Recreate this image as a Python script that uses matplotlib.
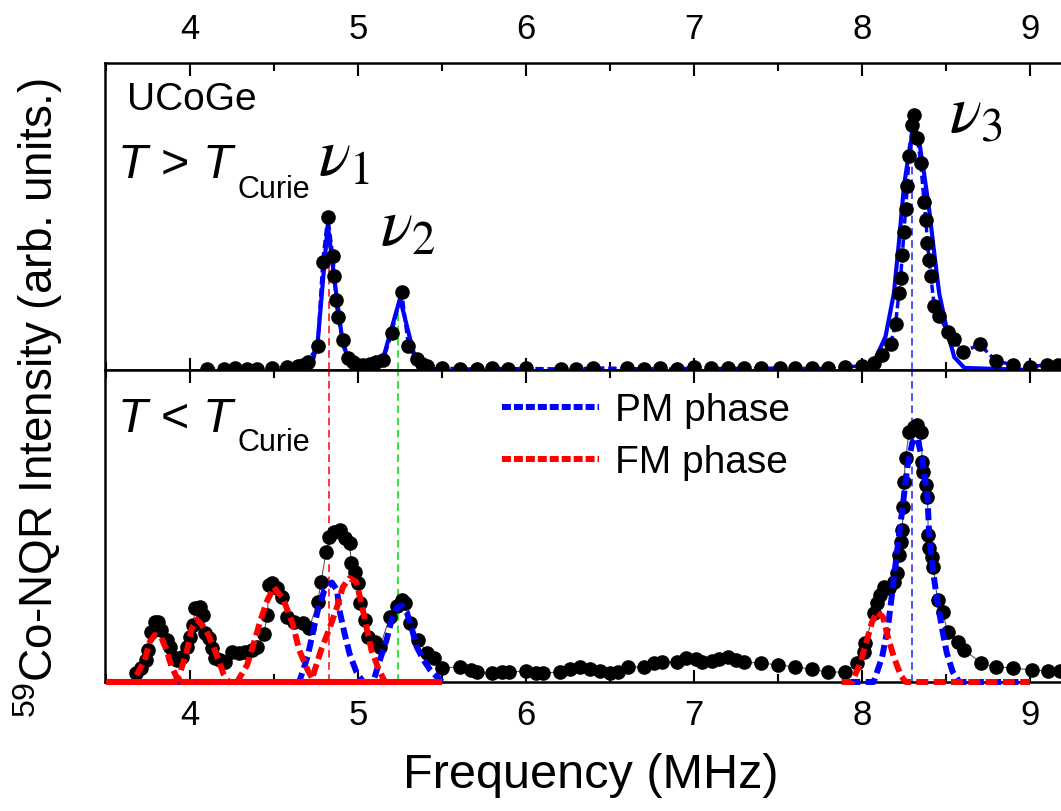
import matplotlib
matplotlib.use("Agg")
import matplotlib.pyplot as plt
from matplotlib.lines import Line2D
from matplotlib.ticker import MultipleLocator

plt.rcParams['font.family'] = ['Liberation Sans', 'DejaVu Sans']
plt.rcParams['mathtext.fontset'] = 'custom'
plt.rcParams['mathtext.rm'] = 'Liberation Sans'
plt.rcParams['mathtext.it'] = 'Liberation Sans:italic'

# ---- data (frequency in MHz, intensity in arb. units) ----
# T > T_Curie spectrum
top_freq = [4.10, 4.20, 4.27, 4.34, 4.40, 4.49, 4.58, 4.64, 4.67, 4.70, 4.76, 4.79, 4.82,
            4.85, 4.86, 4.87, 4.88, 4.91, 4.94, 4.97, 5.00, 5.03, 5.07, 5.11, 5.15, 5.20,
            5.26, 5.30, 5.35, 5.38, 5.41, 5.50, 5.61, 5.71, 5.80, 5.89, 6.00, 6.21, 6.30,
            6.40, 6.60, 6.70, 6.80, 6.90, 7.00, 7.10, 7.20, 7.30, 7.40, 7.51, 7.60, 7.70,
            7.80, 7.90, 8.00, 8.07, 8.12, 8.17, 8.20, 8.22, 8.23, 8.24, 8.25, 8.26, 8.27,
            8.28, 8.30, 8.31, 8.33, 8.35, 8.37, 8.38, 8.39, 8.40, 8.41, 8.43, 8.46, 8.51,
            8.55, 8.60, 8.70, 8.80, 8.90, 9.00, 9.10, 9.17]
top_int = [0.004, 0.004, 0.008, 0.004, 0.004, 0.008, 0.012, 0.016, 0.02, 0.031, 0.094, 0.424, 0.60,
           0.447, 0.369, 0.275, 0.208, 0.118, 0.047, 0.031, 0.02, 0.02, 0.024, 0.031, 0.039, 0.145,
           0.306, 0.094, 0.043, 0.024, 0.016, 0.008, 0.004, 0.004, 0.008, 0.004, 0.006, 0.004, 0.004,
           0.008, 0.006, 0.004, 0.006, 0.002, 0.01, 0.006, 0.006, 0.006, 0.006, 0.008, 0.006, 0.006,
           0.006, 0.012, 0.016, 0.027, 0.059, 0.10, 0.18, 0.30, 0.36, 0.45, 0.54, 0.63, 0.72,
           0.84, 0.96, 1.0, 0.91, 0.81, 0.66, 0.59, 0.50, 0.43, 0.37, 0.25, 0.21, 0.15,
           0.12, 0.07, 0.10, 0.035, 0.02, 0.013, 0.02, 0.02]

# T < T_Curie spectrum
bot_freq = [3.68, 3.71, 3.74, 3.75, 3.77, 3.79, 3.81, 3.83, 3.86, 3.88, 3.90, 3.92, 3.95, 3.98,
            4.00, 4.02, 4.03, 4.06, 4.08, 4.09, 4.11, 4.13, 4.15, 4.18, 4.21, 4.25, 4.29, 4.33,
            4.37, 4.40, 4.44, 4.46, 4.47, 4.49, 4.52, 4.55, 4.58, 4.62, 4.67, 4.71, 4.76, 4.78,
            4.81, 4.83, 4.86, 4.89, 4.92, 4.95, 4.96, 4.98, 5.00, 5.01, 5.04, 5.06, 5.10, 5.13,
            5.19, 5.23, 5.26, 5.28, 5.31, 5.36, 5.41, 5.45, 5.50, 5.61, 5.67, 5.71, 5.80, 5.86,
            5.90, 6.00, 6.06, 6.10, 6.20, 6.26, 6.32, 6.38, 6.44, 6.50, 6.55, 6.61, 6.70, 6.76,
            6.81, 6.90, 6.95, 7.01, 7.05, 7.11, 7.15, 7.20, 7.25, 7.30, 7.40, 7.50, 7.60, 7.70,
            7.80, 7.90, 7.97, 8.01, 8.02, 8.07, 8.09, 8.11, 8.13, 8.16, 8.19, 8.21, 8.22, 8.23,
            8.24, 8.245, 8.25, 8.26, 8.28, 8.31, 8.33, 8.35, 8.36, 8.365, 8.38, 8.39, 8.395, 8.40,
            8.42, 8.425, 8.45, 8.48, 8.51, 8.57, 8.61, 8.71, 8.80, 8.90, 9.01, 9.11, 9.18]
bot_int = [0.035, 0.055, 0.086, 0.125, 0.196, 0.235, 0.235, 0.204, 0.165, 0.137, 0.098, 0.086, 0.098, 0.137,
           0.176, 0.224, 0.29, 0.294, 0.263, 0.192, 0.173, 0.133, 0.094, 0.086, 0.078, 0.118, 0.114, 0.118,
           0.125, 0.137, 0.19, 0.263, 0.38, 0.388, 0.37, 0.333, 0.255, 0.235, 0.231, 0.212, 0.314, 0.392,
           0.51, 0.569, 0.588, 0.596, 0.565, 0.545, 0.467, 0.431, 0.388, 0.31, 0.243, 0.176, 0.157, 0.137,
           0.255, 0.30, 0.32, 0.31, 0.231, 0.165, 0.114, 0.094, 0.055, 0.059, 0.047, 0.039, 0.035, 0.039,
           0.039, 0.043, 0.035, 0.035, 0.039, 0.05, 0.059, 0.05, 0.043, 0.035, 0.04, 0.059, 0.059, 0.074,
           0.078, 0.078, 0.094, 0.09, 0.078, 0.082, 0.09, 0.098, 0.086, 0.078, 0.074, 0.067, 0.059, 0.05,
           0.039, 0.039, 0.074, 0.118, 0.153, 0.27, 0.31, 0.34, 0.373, 0.369, 0.392, 0.427, 0.498, 0.549,
           0.596, 0.686, 0.784, 0.878, 0.98, 1.0, 1.008, 0.98, 0.863, 0.824, 0.773, 0.726, 0.576, 0.525,
           0.49, 0.451, 0.32, 0.275, 0.196, 0.157, 0.125, 0.074, 0.059, 0.055, 0.047, 0.043, 0.043]

# solid fit lines in the upper panel
fit_low_f = [4.60, 4.72, 4.76, 4.82, 4.87, 4.91, 4.96, 5.05, 5.12, 5.16, 5.25, 5.33, 5.38, 5.50]
fit_low_i = [0.0, 0.01, 0.11, 0.57, 0.30, 0.10, 0.02, 0.0, 0.01, 0.07, 0.28, 0.07, 0.01, 0.0]
fit_nu3_f = [7.98, 8.07, 8.14, 8.19, 8.22, 8.25, 8.285, 8.31, 8.34, 8.37, 8.40, 8.43, 8.46, 8.51, 8.55, 8.61, 9.00]
fit_nu3_i = [0.0, 0.03, 0.13, 0.30, 0.50, 0.72, 0.875, 0.95, 0.90, 0.77, 0.63, 0.46, 0.30, 0.145, 0.05, 0.008, 0.0]

# PM phase components (lower panel)
pm1_f = [3.50, 4.65, 4.70, 4.73, 4.76, 4.80, 4.845, 4.875, 4.89, 4.92, 4.95, 4.99, 5.03, 5.50]
pm1_i = [0.0, 0.0, 0.10, 0.19, 0.28, 0.36, 0.39, 0.36, 0.28, 0.19, 0.11, 0.04, 0.0, 0.0]
pm2_f = [3.50, 5.09, 5.13, 5.17, 5.20, 5.23, 5.26, 5.29, 5.32, 5.35, 5.39, 5.43, 5.47, 5.50]
pm2_i = [0.0, 0.0, 0.086, 0.165, 0.243, 0.29, 0.30, 0.275, 0.21, 0.137, 0.086, 0.047, 0.02, 0.0]
pm3_f = [7.88, 8.07, 8.12, 8.155, 8.18, 8.21, 8.24, 8.27, 8.30, 8.33, 8.36, 8.39, 8.40, 8.42,
         8.445, 8.475, 8.505, 8.54, 8.58, 9.00]
pm3_i = [0.0, 0.0, 0.098, 0.216, 0.35, 0.518, 0.675, 0.843, 0.94, 0.957, 0.87, 0.726, 0.584, 0.45,
         0.333, 0.216, 0.114, 0.04, 0.0, 0.0]

# FM phase components (lower panel)
fm1_f = [3.50, 3.66, 3.73, 3.76, 3.79, 3.83, 3.86, 3.89, 3.92, 3.95, 5.50]
fm1_i = [0.0, 0.0, 0.086, 0.157, 0.184, 0.173, 0.125, 0.06, 0.02, 0.0, 0.0]
fm2_f = [3.50, 3.91, 3.94, 3.98, 4.01, 4.04, 4.09, 4.13, 4.17, 4.20, 4.23, 5.50]
fm2_i = [0.0, 0.0, 0.035, 0.118, 0.21, 0.245, 0.21, 0.153, 0.086, 0.03, 0.0, 0.0]
fm3_f = [3.50, 4.28, 4.34, 4.38, 4.42, 4.46, 4.50, 4.52, 4.55, 4.61, 4.65, 4.70, 4.74, 5.50]
fm3_i = [0.0, 0.0, 0.067, 0.153, 0.243, 0.32, 0.372, 0.353, 0.333, 0.23, 0.125, 0.047, 0.0, 0.0]
fm4_f = [3.50, 4.72, 4.78, 4.83, 4.875, 4.91, 4.95, 4.99, 5.02, 5.05, 5.08, 5.12, 5.16, 5.50]
fm4_i = [0.0, 0.0, 0.125, 0.21, 0.294, 0.373, 0.408, 0.392, 0.31, 0.216, 0.125, 0.055, 0.0, 0.0]
fm5_f = [7.88, 7.94, 7.99, 8.03, 8.06, 8.09, 8.125, 8.155, 8.19, 8.23, 8.26, 9.00]
fm5_i = [0.0, 0.0, 0.074, 0.165, 0.235, 0.275, 0.255, 0.176, 0.098, 0.027, 0.0, 0.0]

# peak positions (vertical guide lines)
nu_pos = [4.83, 5.24, 8.30]
nu_col = ['#ff0000', '#00dd00', '#2020ff']
nu_top_height = [0.58, 0.29, 0.95]

BLUE = '#0000ff'
RED = '#ff0000'

fig = plt.figure(figsize=(10.61, 8.11), dpi=100)
ax1 = fig.add_axes([0.099, 0.5438, 0.901, 0.3785])
ax2 = fig.add_axes([0.099, 0.1591, 0.901, 0.3847], sharex=ax1)

for ax in (ax1, ax2):
    ax.set_xlim(3.494, 9.185)
    ax.spines['right'].set_visible(False)
    for s in ('left', 'top', 'bottom'):
        ax.spines[s].set_linewidth(1.8)
    ax.set_yticks([])
    ax.xaxis.set_major_locator(MultipleLocator(1))
    ax.xaxis.set_minor_locator(MultipleLocator(0.5))
    ax.tick_params(axis='x', which='both', direction='in', top=True, bottom=True,
                   width=1.5, labelsize=25, pad=12)
    ax.tick_params(axis='x', which='major', length=9)
    ax.tick_params(axis='x', which='minor', length=6)

ax1.tick_params(axis='x', labeltop=True, labelbottom=False)
ax2.tick_params(axis='x', labeltop=False, labelbottom=True)
ax1.set_ylim(0, 1.204)
ax2.set_ylim(0, 1.224)

# upper panel
for x, c, h in zip(nu_pos, nu_col, nu_top_height):
    ax1.vlines(x, 0, h, colors=c, linestyles=(0, (5, 3)), linewidth=1.1, zorder=1)
ax1.plot(top_freq, top_int, color=BLUE, lw=2.5, dashes=(2.4, 1.1), zorder=2)
ax1.plot(fit_low_f, fit_low_i, color=BLUE, lw=3.0, zorder=2)
ax1.plot(fit_nu3_f, fit_nu3_i, color=BLUE, lw=3.0, zorder=2)
ax1.plot(top_freq, top_int, 'o', color='black', ms=9.5, zorder=3, clip_on=False)

# lower panel
for x, c in zip(nu_pos, nu_col):
    ax2.vlines(x, 0, 1.224, colors=c, linestyles=(0, (5, 3)), linewidth=1.1, zorder=1)
ax2.plot(bot_freq, bot_int, color='0.35', lw=0.8, zorder=2)
ax2.plot(bot_freq, bot_int, 'o', color='black', ms=9.5, zorder=3, clip_on=False)
for k, (f, i) in enumerate([(pm1_f, pm1_i), (pm2_f, pm2_i), (pm3_f, pm3_i)]):
    ax2.plot(f, i, color=BLUE, lw=4.3, linestyle=(k * 0.9, (2.0, 0.9)),
             solid_capstyle='butt', zorder=4, clip_on=False)
for k, (f, i) in enumerate([(fm1_f, fm1_i), (fm2_f, fm2_i), (fm3_f, fm3_i),
                            (fm4_f, fm4_i), (fm5_f, fm5_i)]):
    ax2.plot(f, i, color=RED, lw=4.3, linestyle=(k * 0.75, (2.0, 0.9)),
             zorder=5, clip_on=False)

# labels inside panels
ax1.text(3.625, 1.02, 'UCoGe', fontsize=28, ha='left', va='baseline')
ax1.text(3.565, 0.753, '$T$ > $T$', fontsize=35, ha='left', va='baseline')
ax1.text(4.28, 0.675, 'Curie', fontsize=22, ha='left', va='baseline')
ax2.text(3.565, 0.98, '$T$ < $T$', fontsize=35, ha='left', va='baseline')
ax2.text(4.285, 0.906, 'Curie', fontsize=22, ha='left', va='baseline')

ax1.text(4.76, 0.765, r'$\nu_1$', fontsize=48, math_fontfamily='stix', ha='left', va='baseline')
ax1.text(5.13, 0.49, r'$\nu_2$', fontsize=48, math_fontfamily='stix', ha='left', va='baseline')
ax1.text(8.52, 0.933, r'$\nu_3$', fontsize=48, math_fontfamily='stix', ha='left', va='baseline')

handles = [Line2D([], [], color=BLUE, lw=4.3, dashes=(1.5, 0.5)),
           Line2D([], [], color=RED, lw=4.3, dashes=(1.5, 0.5))]
ax2.legend(handles, ['PM phase', 'FM phase'], loc='upper left',
           bbox_to_anchor=(0.473, 0.516), bbox_transform=fig.transFigure,
           frameon=False, fontsize=28, handlelength=2.5, handletextpad=0.4,
           labelspacing=0.42, borderpad=0, borderaxespad=0)

fig.text(38 / 1061, 1 - 398 / 811, r'$^{59}$Co-NQR Intensity (arb. units.)',
         rotation=90, ha='center', va='center', fontsize=33)
fig.text(591 / 1061, 1 - 775 / 811, 'Frequency (MHz)', ha='center', va='center', fontsize=35)

fig.savefig('out.png', dpi=100)
